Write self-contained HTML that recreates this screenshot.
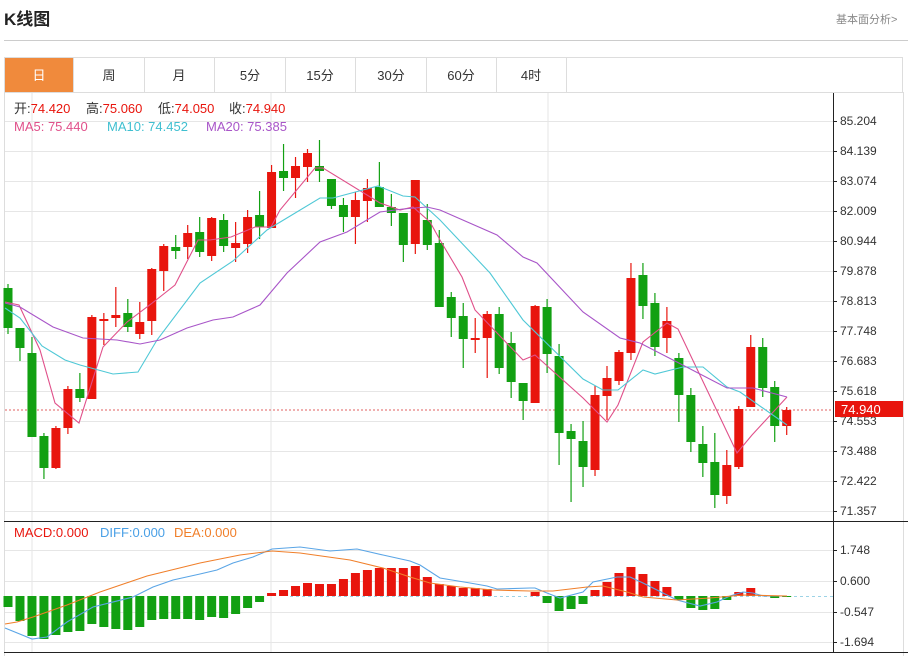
<!DOCTYPE html>
<html><head><meta charset="utf-8"><style>
body{margin:0;background:#fff;width:908px;height:656px;overflow:hidden;font-family:"Liberation Sans","Noto Sans CJK SC",sans-serif;}
</style></head><body>
<svg id="s" width="908" height="656" xmlns="http://www.w3.org/2000/svg" style="position:absolute;left:0;top:0;font-family:'Liberation Sans','Noto Sans CJK SC',sans-serif">
<text x="4" y="25" font-size="17" font-weight="bold" fill="#222">K线图</text>
<text x="836" y="23" font-size="11" fill="#888">基本面分析&gt;</text>
<line x1="4" y1="40.5" x2="908" y2="40.5" stroke="#ccc"/>
<rect x="4.5" y="57.5" width="898" height="35" fill="#fff" stroke="#ddd"/>
<rect x="5" y="58" width="68" height="34" fill="#f08a3c"/>
<g stroke="#ddd"><line x1="73.5" y1="58" x2="73.5" y2="92"/><line x1="144.5" y1="58" x2="144.5" y2="92"/><line x1="214.5" y1="58" x2="214.5" y2="92"/><line x1="285.5" y1="58" x2="285.5" y2="92"/><line x1="355.5" y1="58" x2="355.5" y2="92"/><line x1="426.5" y1="58" x2="426.5" y2="92"/><line x1="496.5" y1="58" x2="496.5" y2="92"/><line x1="566.5" y1="58" x2="566.5" y2="92"/></g>
<g font-size="13" fill="#333" text-anchor="middle"><text x="39" y="80" fill="#fff">日</text><text x="109" y="80">周</text><text x="179" y="80">月</text><text x="250" y="80">5分</text><text x="320" y="80">15分</text><text x="391" y="80">30分</text><text x="461" y="80">60分</text><text x="531" y="80">4时</text></g>
<line x1="4.5" y1="92" x2="4.5" y2="656" stroke="#ddd"/>
<line x1="903.5" y1="92" x2="903.5" y2="656" stroke="#ddd"/>
<g id="grid" stroke="#e6e6e6"></g>
<g stroke="#e6e6e6"><line x1="32" y1="93" x2="32" y2="652"/><line x1="271" y1="93" x2="271" y2="652"/><line x1="548" y1="93" x2="548" y2="652"/></g>
<line x1="5" y1="410" x2="833" y2="410" stroke="#e06060" stroke-dasharray="2,2"/>
<g id="cd"></g>
<g id="ma" fill="none" stroke-width="1.1"></g>
<g font-size="13">
<text x="14" y="113" fill="#333">开:<tspan fill="#e8150d">74.420</tspan></text>
<text x="86" y="113" fill="#333">高:<tspan fill="#e8150d">75.060</tspan></text>
<text x="158" y="113" fill="#333">低:<tspan fill="#e8150d">74.050</tspan></text>
<text x="229" y="113" fill="#333">收:<tspan fill="#e8150d">74.940</tspan></text>
<text x="14" y="131" fill="#e0508a">MA5: 75.440</text>
<text x="107" y="131" fill="#3fbfd0">MA10: 74.452</text>
<text x="206" y="131" fill="#a855c8">MA20: 75.385</text>
<text x="14" y="537" fill="#e8150d">MACD:0.000</text>
<text x="100" y="537" fill="#4aa0e6">DIFF:0.000</text>
<text x="174" y="537" fill="#f07f2a">DEA:0.000</text></g>
<line x1="833.5" y1="93" x2="833.5" y2="652" stroke="#222"/>
<line x1="4" y1="521.5" x2="908" y2="521.5" stroke="#222"/>
<line x1="4" y1="652.5" x2="908" y2="652.5" stroke="#222"/>
<g id="lab" font-size="12" fill="#333"></g>
<rect x="835" y="401" width="68" height="16" fill="#e8150d"/>
<text x="841" y="414" font-size="13" fill="#fff">74.940</text>
</svg>
<script>
var NS="http://www.w3.org/2000/svg";
function el(p,t,a){var e=document.createElementNS(NS,t);for(var k in a)e.setAttribute(k,a[k]);p.appendChild(e);return e;}
var grid=document.getElementById('grid'),lab=document.getElementById('lab');
var labs=["85.204","84.139","83.074","82.009","80.944","79.878","78.813","77.748","76.683","75.618","74.553","73.488","72.422","71.357"];
labs.forEach(function(l,i){var y=121+i*30;el(grid,'line',{x1:5,y1:y+.5,x2:833,y2:y+.5});el(lab,'line',{x1:833,y1:y+.5,x2:837,y2:y+.5,stroke:'#222'});var t=el(lab,'text',{x:840,y:y+4});t.textContent=l;});
[["1.748",550],["0.600",581],["-0.547",612],["-1.694",642]].forEach(function(a){var y=a[1];el(grid,'line',{x1:5,y1:y+.5,x2:833,y2:y+.5});el(lab,'line',{x1:833,y1:y+.5,x2:837,y2:y+.5,stroke:'#222'});var t=el(lab,'text',{x:840,y:y+4});t.textContent=a[0];});
var R="#e8150d",G="#12a012";
var C=[[288,328,284,334,G],[328,348,328,361,G],[353,437,337,437,G],[436,468,433,479,G],[428,468,426,469,R],[389,428,386,434,R],[389,398,373,402,G],[317,399,315,399,R],[319,321,313,345,R],[315,318,287,327,R],[313,327,299,332,G],[322,334,302,339,R],[269,321,268,335,R],[246,271,244,291,R],[247,251,235,259,G],[233,247,225,259,R],[232,252,217,257,G],[218,256,217,261,R],[220,246,214,252,G],[243,248,222,262,R],[217,244,210,253,R],[215,227,191,239,G],[172,228,165,228,R],[171,178,144,191,G],[166,178,157,198,R],[153,167,149,182,R],[166,171,140,182,G],[179,206,179,209,G],[205,217,198,232,G],[200,217,192,244,R],[188,201,179,222,R],[187,207,162,207,G],[207,213,194,226,G],[213,245,213,262,G],[180,244,180,254,R],[220,245,204,250,G],[243,307,230,307,G],[297,318,292,337,G],[316,339,303,368,G],[338,340,318,353,R],[314,338,311,378,R],[314,368,307,374,G],[343,382,332,398,G],[383,401,383,420,G],[306,403,305,403,R],[307,354,299,373,G],[356,433,344,465,G],[431,439,424,502,G],[441,467,421,487,G],[395,470,386,476,R],[378,396,366,420,R],[352,381,350,385,R],[278,353,263,360,R],[275,306,263,319,G],[303,347,293,356,G],[321,338,307,353,R],[358,395,353,422,G],[395,442,388,452,G],[444,463,426,477,G],[462,495,433,508,G],[465,496,450,504,R],[409,467,406,469,R],[347,407,335,407,R],[347,388,338,397,G],[387,426,381,442,G],[410,426,407,435,R]];
var cd=document.getElementById('cd');
C.forEach(function(c,i){var x=8+i*11.98;el(cd,'line',{x1:x,y1:c[2],x2:x,y2:c[3],stroke:c[4],'stroke-width':1.2});el(cd,'rect',{x:x-4.5,y:c[0],width:9,height:Math.max(1.5,c[1]-c[0]),fill:c[4]});});
var Z=596;
var M=[607,621,636,639,635,632,631,624,627,629,630,627,620,619,619,619,620,617,618,614,608,602,593,590,586,583,584,584,579,573,570,568,568,568,566,577,584,586,588,588,589,596,596,596,592,603,611,609,604,590,582,573,567,574,581,587,600,608,610,609,600,592,588,595,598,597];
el(cd,'line',{x1:290,y1:Z+.5,x2:833,y2:Z+.5,stroke:'#9cd3e6','stroke-dasharray':'3,3'});
M.forEach(function(y,i){var x=8+i*11.98;if(Math.abs(y-Z)<1)return;var up=y<Z;el(cd,'rect',{x:x-4.5,y:Math.min(y,Z),width:9,height:Math.abs(y-Z),fill:up?R:G});});
var ma=document.getElementById('ma');
function pl(pts,col){el(ma,'polyline',{points:pts.map(function(p){return p.join(',')}).join(' '),stroke:col});}
pl([[5,302],[19,305],[40,350],[55,403],[79,423],[103,347],[127,322],[151,304],[175,285],[198,240],[210,240],[231,237],[255,227],[271,227],[280,210],[315,168],[323,168],[380,203],[400,210],[413,207],[430,222],[440,240],[462,277],[475,310],[523,360],[535,355],[583,398],[607,422],[618,405],[643,342],[667,323],[678,329],[737,453],[752,435],[787,397]],"#e0508a");
pl([[5,308],[20,318],[42,346],[65,360],[80,365],[113,374],[138,372],[157,340],[200,283],[233,261],[267,230],[320,198],[333,198],[378,186],[403,196],[415,197],[440,220],[490,273],[523,320],[583,379],[603,390],[618,390],[643,370],[655,374],[683,367],[703,367],[727,387],[740,392],[787,425]],"#4fc8d6");
pl([[5,303],[20,307],[53,327],[83,338],[117,340],[140,344],[160,340],[187,328],[213,320],[233,317],[260,305],[287,273],[320,242],[347,232],[380,212],[403,209],[427,207],[440,210],[497,235],[523,257],[537,263],[583,312],[620,338],[640,343],[673,360],[727,388],[753,388],[787,397]],"#a855c8");
pl([[5,628],[32,639],[47,637],[67,622],[93,607],[133,597],[153,587],[173,580],[200,574],[217,570],[233,563],[253,557],[272,549],[300,547],[330,551],[357,549],[383,555],[410,561],[420,565],[440,578],[470,583],[487,586],[497,589],[530,588],[535,588],[547,593],[560,598],[583,592],[593,582],[617,577],[630,577],[643,583],[663,593],[677,600],[700,606],[717,602],[730,596],[743,592],[753,593],[763,596],[787,596]],"#5aa5e6");
pl([[5,624],[17,622],[33,617],[67,605],[100,592],[147,576],[200,563],[240,555],[272,551],[300,553],[350,560],[383,568],[410,577],[430,583],[460,587],[493,590],[530,591],[553,591],[587,587],[603,586],[627,592],[643,597],[677,600],[710,598],[743,595],[787,596]],"#f07f2a");
</script>
</body></html>
